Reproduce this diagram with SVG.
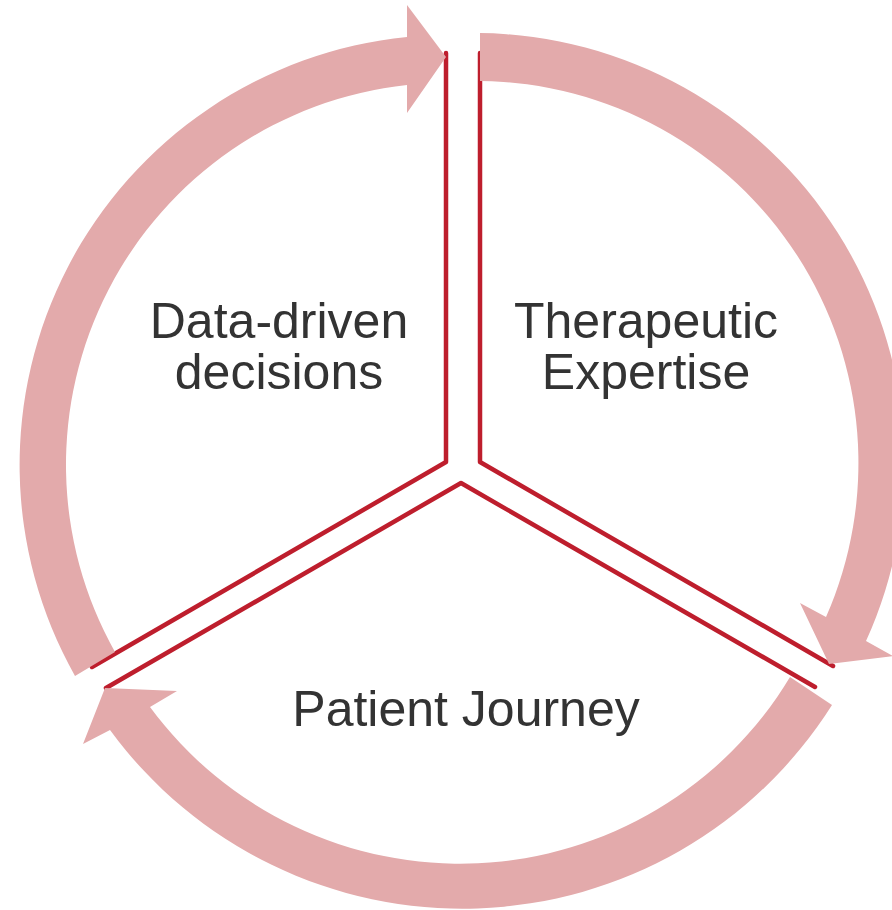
<svg xmlns="http://www.w3.org/2000/svg" width="892" height="910" viewBox="0 0 892 910">
<style>
.sep{fill:none;stroke:#BE1E2D;stroke-width:4.5;stroke-linejoin:round;stroke-linecap:round}
.arr{fill:#E3AAAB;stroke:none}
.lbl{font-family:"Liberation Sans",Arial,sans-serif;font-size:50px;fill:#333333;text-anchor:middle}
</style>
<rect width="892" height="910" fill="#ffffff"/>
<g id="connectors">
<polyline class="sep" points="446,53 446,462 92,667"/>
<polyline class="sep" points="480,53 480,462 833,666"/>
<polyline class="sep" points="106,688 461,483 815,687"/>
<path class="arr" d="M75,676 A430,430 0 0 1 407,37 L407,5 L446,57 L407,113 L407,85 A382,382 0 0 0 115,652 Z"/>
<path class="arr" d="M480,33 A430,430 0 0 1 866,641 L893,656 L829,664 L800,603 L826,617 A382,382 0 0 0 480,81 Z"/>
<path class="arr" d="M832,705 A437,437 0 0 1 110,730 L83,744 L105,688 L177,691 L150,707 A385,385 0 0 0 790,677 Z"/>
</g>
<g id="data-driven">
<text class="lbl" x="279" y="338">Data-driven</text>
<text class="lbl" x="279" y="389">decisions</text>
</g>
<g id="therapeutic">
<text class="lbl" x="646" y="338">Therapeutic</text>
<text class="lbl" x="646" y="389">Expertise</text>
</g>
<g id="patient">
<text class="lbl" x="466" y="726">Patient Journey</text>
</g>
</svg>
